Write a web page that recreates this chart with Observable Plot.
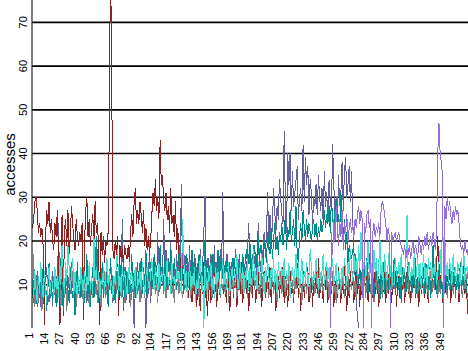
<!DOCTYPE html>
<html>
<head>
<meta charset="utf-8">
<script src="https://cdn.jsdelivr.net/npm/d3@7"></script>
<script src="https://cdn.jsdelivr.net/npm/@observablehq/plot@0.6"></script>
<style>
  html, body { margin: 0; padding: 0; background: #fff; }
  #chart svg { display: block; }
</style>
</head>
<body>
<div id="chart"></div>
<script>
// x tick labels and y ticks
const xTickLabels = [1,14,27,40,53,66,79,92,104,117,130,143,156,169,181,194,207,220,233,246,259,272,284,297,310,323,336,349];
const yTickLabels = [10,20,30,40,50,60,70];
const yLabel = "accesses";

// series values, index 1..370
const darkRed = [
23,25,29,30,27,22,24,21,23,19,
1,20,27,24,29,22,25,20,18,24,
21,27,17,1,2,26,3,22,25,19,
27,17,21,28,24,20,18,25,21,19,
22,20,24,2,19,27,30,21,25,19,
23,26,20,29,22,24,18,1,22,17,
21,15,20,19,22,46,85,60,18,16,
20,17,21,3,19,16,18,15,19,17,
16,19,15,22,26,21,29,32,24,27,
24,29,26,22,27,19,23,18,21,17,
20,26,31,28,34,27,30,25,43,33,
35,29,27,31,25,28,22,32,24,26,
21,29,18,23,15,16,12,14,10,13,
9,12,7,11,14,6,10,8,13,5,
11,9,4,12,8,15,7,10,3,9,
13,6,11,8,14,10,5,12,9,7,
12,16,8,11,6,13,9,4,10,14,
7,11,13,5,9,12,8,15,6,10,
13,8,11,4,9,14,7,12,10,6,
11,15,8,12,5,10,13,7,9,12,
8,14,6,11,9,13,4,10,12,7,
11,8,14,6,12,9,5,10,13,8,
10,6,12,9,15,7,11,4,9,13,
7,12,8,14,6,10,12,5,11,9,
13,8,16,7,10,12,6,11,9,14,
6,10,13,8,12,5,9,11,7,14,
10,6,12,8,15,9,4,11,7,13,
9,12,6,10,14,8,11,5,13,7,
10,12,8,15,6,9,18,11,7,13,
8,12,10,5,11,14,7,9,13,6,
11,8,14,10,6,12,9,13,5,10,
12,7,11,9,14,6,10,13,8,11,
6,12,9,15,7,11,10,5,13,8,
10,14,7,12,9,6,11,13,8,12,
12,9,14,21,11,10,13,6,9,15,
8,12,10,14,6,11,9,13,7,12,
10,6,13,9,11,15,8,12,5,2
];

const slate = [
8,11,6,9,13,7,10,5,12,9,
7,10,14,8,6,11,9,13,7,10,
12,6,24,9,11,8,13,7,10,6,
9,12,8,15,10,7,11,6,13,9,
8,11,7,14,10,12,6,9,13,8,
10,7,12,9,14,18,8,11,6,10,
13,9,7,12,8,11,15,10,6,9,
12,8,10,13,9,11,25,9,14,6,
10,12,8,11,7,13,0,9,12,8,
11,15,7,10,12,9,0,14,8,20,
6,11,13,9,15,10,22,8,12,14,
10,25,13,18,9,16,12,20,11,15,
14,10,17,12,19,15,33,11,18,13,
10,16,12,19,8,14,11,17,13,9,
15,12,18,10,14,22,30,13,9,16,
12,17,10,14,19,11,15,9,13,18,
12,31,14,10,17,12,9,15,11,13,
16,10,14,8,12,17,11,15,13,9,
14,12,18,24,15,13,11,19,14,17,
12,24,16,13,19,15,22,17,21,31,
18,26,20,23,32,27,22,28,25,34,
30,26,24,45,29,22,40,33,40,27,
36,28,31,34,37,25,30,32,27,42,
29,39,33,37,26,34,31,24,30,28,
33,26,35,30,27,32,24,36,28,31,
25,34,29,27,42,33,26,30,24,35,
28,31,38,27,36,39,30,33,37,29,
36,24,18,12,6,3,0,0,0,0,
0,0,0,0,0,0,0,0,0,0,
0,0,0,0,0,0,0,0,0,0,
0,0,0,0,0,0,0,0,0,0,
0,0,0,0,0,0,0,0,0,0,
0,0,0,0,0,0,0,0,0,0,
0,0,0,0,0,0,0,0,0,0,
0,0,0,0,0,0,0,0,0,0,
0,0,0,0,0,0,0,0,0,0,
0,0,0,0,0,0,0,0,0,0
];

const purple = [
0,0,0,0,0,0,0,0,0,0, 0,0,0,0,0,0,0,0,0,0,
0,0,0,0,0,0,0,0,0,0, 0,0,0,0,0,0,0,0,0,0,
0,0,0,0,0,0,0,0,0,0, 0,0,0,0,0,0,0,0,0,0,
0,0,0,0,0,0,0,0,0,0, 0,0,0,0,0,0,0,0,0,0,
0,0,0,0,0,0,0,0,0,0, 0,0,0,0,0,0,0,0,0,0,
0,0,0,0,0,0,0,0,0,0, 0,0,0,0,0,0,0,0,0,0,
0,0,0,0,0,0,0,0,0,0, 0,0,0,0,0,0,0,0,0,0,
0,0,0,0,0,0,0,0,0,0, 0,0,0,0,0,0,0,0,0,0,
0,0,0,0,0,0,0,0,0,0, 0,0,0,0,0,0,0,0,0,0,
0,0,0,0,0,0,0,0,0,0, 0,0,0,0,0,0,0,0,0,0,
0,0,0,0,0,0,0,0,0,0, 0,0,0,0,0,0,0,0,0,0,
0,0,0,0,0,0,0,0,0,0, 0,0,0,0,0,0,0,0,0,0,
0,0,0,0,0,0,0,0,0,0,
0,0,0,22,17,25,20,28,23,19,
25,21,27,18,24,22,26,20,23,25,
22,24,21,25,23,26,28,24,27,25,
0,24,22,26,27,23,25,0,22,24,
21,23,22,24,21,27,29,28,26,24,
20,23,21,0,22,20,21,22,20,21,
22,20,19,18,17,19,16,18,17,19,
16,18,20,17,19,18,16,21,19,17,
20,18,21,19,22,18,20,21,19,22,
20,18,23,40,47,40,38,35,0,28,
25,30,27,29,26,24,27,25,28,26,
27,24,20,18,19,17,20,18,17,19
];

const teal = [
9,6,12,8,5,11,7,10,14,6,
8,12,4,9,15,7,11,6,10,13,
5,9,12,7,16,10,4,11,8,13,
9,6,14,10,7,12,3,9,15,8,
11,7,10,13,6,9,17,8,12,5,
10,14,7,11,21,9,6,12,8,15,
7,11,9,13,5,10,16,8,12,9,
6,13,10,7,15,9,12,4,11,14,
8,12,6,10,17,9,13,7,11,15,
9,12,16,8,14,10,18,7,13,11,
15,9,12,17,10,14,8,13,19,11,
14,10,16,12,9,15,11,18,13,10,
16,12,9,14,17,11,15,13,8,12,
17,14,10,15,12,18,9,13,16,11,
14,17,12,10,15,13,20,11,16,12,
9,14,17,12,15,10,13,18,11,14,
16,12,9,15,13,17,11,14,10,16,
12,15,18,13,10,16,14,11,17,13,
15,18,14,16,20,13,17,15,19,14,
17,21,15,19,16,14,20,18,15,22,
19,17,23,16,20,24,18,21,17,22,
20,24,19,22,26,18,23,21,27,20,
22,25,19,28,17,15,21,24,20,27,
23,20,25,21,24,22,20,23,25,21,
24,20,23,21,25,22,24,27,23,26,
24,28,22,30,25,23,27,29,24,26,
22,31,26,20,25,18,22,15,19,17,
16,18,13,17,12,15,10,14,11,13,
9,14,11,16,8,12,20,10,13,7,
11,14,9,12,6,13,10,15,8,11,
13,9,12,7,14,10,16,8,11,13,
9,12,6,14,10,13,8,11,15,9,
12,7,13,10,16,8,11,14,9,12,
10,13,8,15,11,9,14,7,12,19,
10,13,8,11,15,9,12,7,14,10,
13,8,11,16,9,12,10,14,7,11,
13,9,15,8,12,10,14,11,7,9
];

const turquoise = [
11,7,13,9,6,12,8,15,10,7,
13,9,6,11,14,8,12,10,7,14,
9,12,7,16,10,19,13,8,15,11,
19,14,9,12,16,8,13,10,7,12,
9,14,11,8,13,7,12,10,15,9,
12,8,21,11,14,9,13,7,11,10,
14,8,12,16,10,13,9,11,7,12,
10,15,18,9,12,8,14,11,13,10,
8,12,15,10,13,9,11,14,7,12,
10,13,9,15,11,8,12,14,10,9,
13,16,11,9,14,12,7,15,10,13,
11,14,9,12,16,10,13,8,15,11,
12,9,14,11,13,10,8,25,16,10,
13,7,11,15,9,12,10,14,6,11,
9,13,16,10,12,0,14,11,8,13,
11,15,9,12,7,14,10,13,11,8,
12,16,10,13,9,11,15,8,12,14,
10,13,11,17,9,12,15,10,14,8,
13,11,16,9,14,10,12,18,11,13,
9,15,12,10,17,13,8,14,11,16,
12,9,14,11,16,10,13,8,15,12,
10,14,12,16,9,13,11,15,7,12,
14,10,13,17,11,15,9,12,16,10,
13,11,15,9,12,18,14,10,13,11,
16,12,9,14,11,13,17,10,12,15,
11,14,9,13,16,10,12,15,8,13,
12,9,14,11,16,13,10,15,12,18,
14,11,17,13,16,12,19,14,22,15,
13,17,11,15,20,12,16,14,10,18,
13,16,11,14,21,12,15,9,17,13,
11,15,18,12,14,10,10,16,13,11,
15,12,17,10,14,13,16,26,12,15,
11,14,12,17,10,13,16,11,15,9,
13,17,11,14,10,16,12,15,11,14,
12,16,10,13,15,18,11,26,14,20,
12,15,11,16,13,10,17,12,14,11,
15,13,10,16,12,18,11,14,13,15
];

const gray = [
7,17,5,9,11,6,8,12,4,10,
8,11,6,9,13,7,10,5,12,8,
6,10,8,13,5,9,11,7,12,4,
9,6,11,8,13,7,10,5,12,9,
7,12,9,6,11,8,14,10,5,9,
11,7,13,8,10,6,12,9,5,11,
8,13,7,10,6,12,9,14,8,11,
6,10,13,8,11,7,9,12,6,10,
13,8,11,5,9,12,7,10,14,8,
10,6,12,9,11,7,13,8,10,12,
7,11,9,13,8,10,6,12,9,11,
13,8,10,7,12,9,11,14,8,10,
6,11,9,12,8,13,10,7,11,9,
12,8,10,14,7,11,9,13,8,10,
11,7,13,9,10,6,12,8,11,9,
13,10,7,12,9,11,8,14,10,7,
11,9,13,8,10,12,6,11,9,13,
8,11,10,7,12,9,13,8,11,10,
9,12,7,11,14,8,10,13,9,11,
12,8,10,7,13,9,11,8,12,10,
7,11,9,13,8,10,12,6,11,9,
13,8,10,12,7,11,9,14,8,10,
11,7,12,9,10,13,8,11,6,12,
9,11,8,13,10,7,12,9,11,8,
10,13,7,11,9,12,8,10,14,9,
11,7,12,9,13,8,10,6,11,9,
12,8,10,13,7,11,9,12,8,10,
9,13,8,11,7,12,10,9,13,8,
10,12,7,11,9,14,8,10,12,6,
11,9,13,8,10,12,7,11,9,13,
8,10,12,7,11,9,13,8,10,12,
9,11,7,13,10,8,12,9,11,7,
12,9,10,14,8,11,7,12,9,10,
13,8,11,9,12,7,10,13,8,11,
9,12,10,7,11,8,12,9,13,21,
10,7,12,9,11,13,8,10,12,9,
11,8,13,10,7,12,9,11,13,10
];

const seriesNames = ["slate", "darkRed", "gray", "teal", "turquoise", "purple"];
const seriesColors = ["#62609f", "#8b2323", "#808080", "#008b8b", "#40e0d0", "#9370db"];
const seriesValues = [slate, darkRed, gray, teal, turquoise, purple];

const lineMarks = seriesValues.map((vals, i) => {
  const rows = vals.map((v, j) => ({x: j + 1, y: v}));
  return Plot.line(rows, {x: "x", y: "y", stroke: seriesColors[i], strokeWidth: 1, clip: true, shapeRendering: "crispEdges"});
});

const chart = Plot.plot({
  width: 468,
  height: 351,
  marginLeft: 32,
  marginRight: 0,
  marginTop: 0,
  marginBottom: 23,
  style: {background: "#fff", fontFamily: "Liberation Sans, Arial, sans-serif", fontSize: "11px", color: "#000"},
  x: {domain: [1, 370], axis: null},
  y: {domain: [0, 75], axis: null},
  marks: [
    Plot.ruleY(yTickLabels, {stroke: "#000", strokeWidth: 1.6}),
    ...lineMarks,
    Plot.ruleX([1], {stroke: "#000", strokeWidth: 1, dx: -0.5}),
    Plot.text(yTickLabels, {y: d => d, frameAnchor: "left", dx: -9.5, rotate: -90, textAnchor: "middle", fill: "#000", fontSize: 11}),
    Plot.text(xTickLabels, {x: d => d, frameAnchor: "bottom", dy: 4, rotate: -90, textAnchor: "end", fill: "#000", fontSize: 11}),
    Plot.text([yLabel], {frameAnchor: "left", dx: -22, rotate: -90, textAnchor: "middle", fill: "#000", fontSize: 15})
  ]
});
document.getElementById("chart").appendChild(chart);
</script>
</body>
</html>
